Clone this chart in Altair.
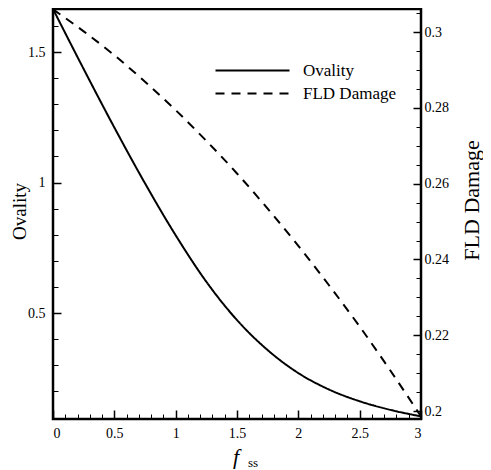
import altair as alt
import pandas as pd

# ---- data ----
f_ss = [0, 0.25, 0.5, 0.75, 1.0, 1.25, 1.5, 1.75, 2.0, 2.25, 2.5, 2.75, 3.0]
ovality = [1.665, 1.435, 1.211, 0.997, 0.798, 0.62, 0.473, 0.358, 0.27, 0.207, 0.162, 0.129, 0.104]
fld_damage = [0.306, 0.3002, 0.2939, 0.2869, 0.2794, 0.2713, 0.2627, 0.2534, 0.2436, 0.2332,
              0.2223, 0.2107, 0.1986]

series_names = ["Ovality", "FLD Damage"]

x_major = [0, 0.5, 1, 1.5, 2, 2.5, 3]
x_minor = [0.1, 0.2, 0.3, 0.4, 0.6, 0.7, 0.8, 0.9, 1.1, 1.2, 1.3, 1.4, 1.6, 1.7, 1.8, 1.9,
           2.1, 2.2, 2.3, 2.4, 2.6, 2.7, 2.8, 2.9]
ov_major = [0.5, 1, 1.5]
ov_minor = [0.2, 0.3, 0.4, 0.6, 0.7, 0.8, 0.9, 1.1, 1.2, 1.3, 1.4, 1.6]
fld_major = [0.2, 0.22, 0.24, 0.26, 0.28, 0.3]
fld_minor = [0.205, 0.21, 0.215, 0.225, 0.23, 0.235, 0.245, 0.25, 0.255, 0.265, 0.27, 0.275,
             0.285, 0.29, 0.295, 0.305]

x_domain = [0, 3]
ov_domain = [0.094, 1.665]
fld_domain = [0.1979, 0.3061]

FONT = "Liberation Serif, Times New Roman, serif"

df_ov = pd.DataFrame({"x": f_ss, "v": ovality, "series": series_names[0]})
df_fld = pd.DataFrame({"x": f_ss, "v": fld_damage, "series": series_names[1]})

xscale = alt.Scale(domain=x_domain, nice=False, zero=False)
ovscale = alt.Scale(domain=ov_domain, nice=False, zero=False)
fldscale = alt.Scale(domain=fld_domain, nice=False, zero=False)

dash_scale = alt.Scale(domain=series_names, range=[[1, 0], [9, 7]])

common_axis = dict(domain=False, grid=False, tickColor="black", labelColor="black",
                   labelFont=FONT, labelFontSize=14, titleFont=FONT, titleColor="black",
                   titleFontWeight="normal")

# long horizontal stroke symbol drawn from a small nominal size so rows stay compact
legend = alt.Legend(orient="none", legendX=191, legendY=53, title=None, symbolType="M-7.4,0H7.4",
                    symbolSize=100, symbolStrokeWidth=2, symbolStrokeColor="black",
                    symbolFillColor="transparent",
                    labelFont=FONT, labelFontSize=17, labelColor="black", labelOffset=42,
                    rowPadding=5, padding=0)

ov_line = alt.Chart(df_ov).mark_line(color="black", strokeWidth=2, interpolate="monotone").encode(
    x=alt.X("x:Q", scale=xscale, axis=alt.Axis(orient="bottom", values=x_major, title=None,
            tickSize={"expr": "-9"}, tickWidth=1.5, labelPadding=16,
            labelExpr="'' + datum.value", **common_axis)),
    y=alt.Y("v:Q", scale=ovscale, axis=alt.Axis(orient="left", values=ov_major, title="Ovality",
            tickSize={"expr": "-8"}, tickWidth=1.5, labelPadding=16,
            labelExpr="'' + datum.value", titleFontSize=19, titleX=-34, titleY=202,
            titleAngle=270, titleBaseline="middle", titleAlign="center", **common_axis)),
    strokeDash=alt.StrokeDash("series:N", scale=dash_scale, legend=legend),
)

fld_line = alt.Chart(df_fld).mark_line(color="black", strokeWidth=2, interpolate="monotone").encode(
    x=alt.X("x:Q", scale=xscale, axis=None),
    y=alt.Y("v:Q", scale=fldscale, axis=alt.Axis(orient="right", values=fld_major, title="FLD Damage",
            tickSize={"expr": "-8"}, tickWidth=1.5, labelPadding=11,
            labelExpr="'' + datum.value", titleFontSize=22, titleX=50, titleY=191,
            titleAngle=270, titleBaseline="middle", titleAlign="center", **common_axis)),
    strokeDash=alt.StrokeDash("series:N", scale=dash_scale, legend=legend),
)

minor_axis = dict(domain=False, grid=False, labels=False, title=None, tickColor="black",
                  tickSize={"expr": "-5"}, tickWidth=1)

ov_minor_layer = alt.Chart(df_ov).mark_line(opacity=0).encode(
    x=alt.X("x:Q", scale=xscale, axis=alt.Axis(orient="bottom", values=x_minor, **minor_axis)),
    y=alt.Y("v:Q", scale=ovscale, axis=alt.Axis(orient="left", values=ov_minor, **minor_axis)),
)

fld_minor_layer = alt.Chart(df_fld).mark_line(opacity=0).encode(
    x=alt.X("x:Q", scale=xscale, axis=None),
    y=alt.Y("v:Q", scale=fldscale, axis=alt.Axis(orient="right", values=fld_minor, **minor_axis)),
)

f_text = alt.Chart(pd.DataFrame({"t": ["f"]})).mark_text(
    font=FONT, fontSize=22, fontStyle="italic", color="black", baseline="alphabetic", align="center"
).encode(text="t:N", x=alt.value(183), y=alt.value(455))

ss_text = alt.Chart(pd.DataFrame({"t": ["ss"]})).mark_text(
    font=FONT, fontSize=13, color="black", baseline="alphabetic", align="center"
).encode(text="t:N", x=alt.value(200), y=alt.value(458))

chart = alt.layer(ov_minor_layer, fld_minor_layer, ov_line, fld_line, f_text, ss_text).resolve_scale(
    y="independent", strokeDash="shared"
).resolve_axis(
    x="independent", y="independent"
).properties(
    width=368, height=410,
    autosize=alt.AutoSizeParams(type="none"),
    padding={"left": 45, "top": 1, "right": 62, "bottom": 51},
    background="white",
).configure_view(stroke="black", strokeWidth=2.5)

chart.save("out.html", embed_options={"renderer": "svg", "actions": False})
